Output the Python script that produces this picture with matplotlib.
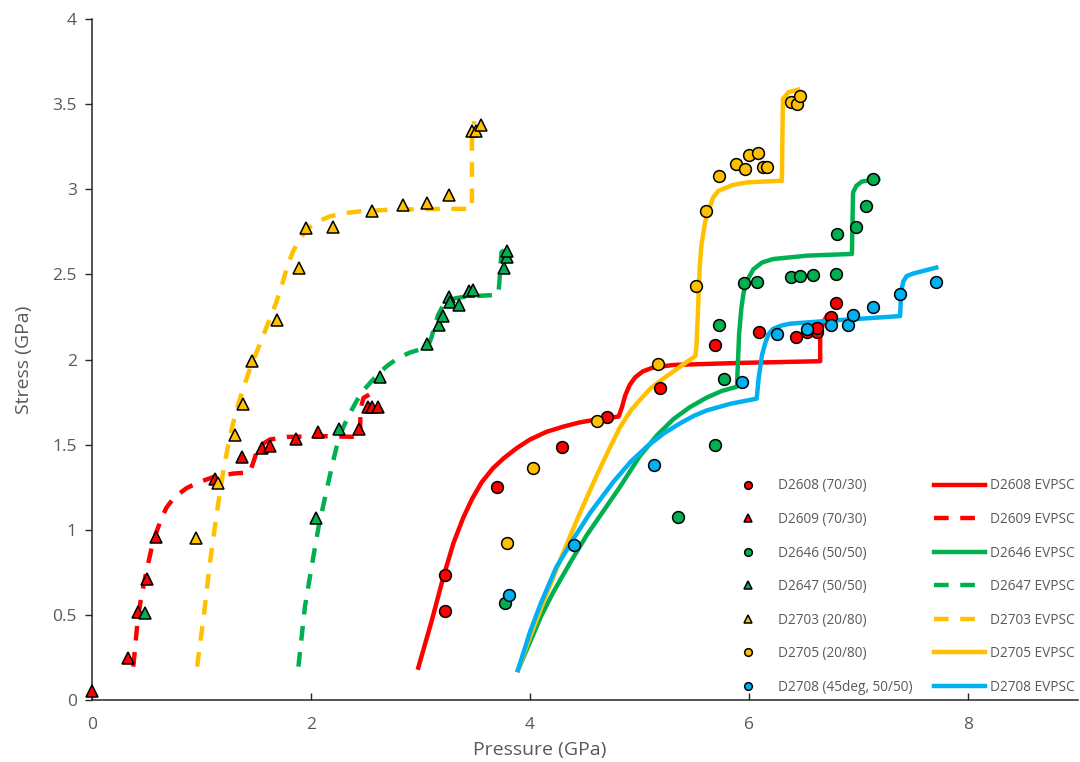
"""
Stress versus pressure for the D26xx / D27xx runs, with EVPSC model curves.
"""

import matplotlib
matplotlib.use("Agg")
import matplotlib.pyplot as plt

plt.rcParams["font.family"] = ["Open Sans", "DejaVu Sans"]

RED = "#FF0000"
GREEN = "#00B050"
YELLOW = "#FFC000"
BLUE = "#00B0F0"
GREY = "#595959"

# measured points (pressure GPa, stress GPa)
d2608_p = [3.22, 3.22, 3.70, 4.29, 4.70, 5.19, 5.69, 6.09, 6.43, 6.53, 6.62, 6.62, 6.75, 6.79]
d2608_s = [0.52, 0.735, 1.25, 1.485, 1.66, 1.83, 2.085, 2.16, 2.13, 2.16, 2.16, 2.185, 2.25, 2.33]

d2609_p = [0.0, 0.33, 0.42, 0.50, 0.585, 1.12, 1.37, 1.55, 1.63, 1.86, 2.06, 2.44, 2.52, 2.56, 2.61]
d2609_s = [0.05, 0.245, 0.515, 0.71, 0.957, 1.30, 1.43, 1.48, 1.49, 1.535, 1.575, 1.59, 1.72, 1.72, 1.72]

d2646_p = [3.77, 5.35, 5.69, 5.77, 5.73, 5.95, 6.07, 6.38, 6.47, 6.58, 6.79, 6.80, 6.98, 7.07, 7.13]
d2646_s = [0.57, 1.075, 1.50, 1.885, 2.20, 2.45, 2.455, 2.485, 2.49, 2.495, 2.505, 2.735, 2.78, 2.90, 3.06]

d2647_p = [0.484, 2.05, 2.26, 2.63, 3.06, 3.17, 3.21, 3.26, 3.27, 3.35, 3.44, 3.48, 3.76, 3.79, 3.79]
d2647_s = [0.51, 1.07, 1.59, 1.90, 2.09, 2.205, 2.255, 2.37, 2.34, 2.32, 2.405, 2.41, 2.54, 2.60, 2.64]

d2703_p = [0.947, 1.15, 1.31, 1.38, 1.46, 1.69, 1.89, 1.95, 2.20, 2.56, 2.84, 3.06, 3.26, 3.47, 3.51, 3.55]
d2703_s = [0.95, 1.275, 1.555, 1.74, 1.99, 2.23, 2.54, 2.77, 2.78, 2.87, 2.905, 2.92, 2.965, 3.34, 3.34, 3.38]

d2705_p = [3.79, 4.03, 4.61, 5.17, 5.52, 5.61, 5.73, 5.88, 5.96, 6.00, 6.08, 6.13, 6.16, 6.38, 6.44, 6.47]
d2705_s = [0.92, 1.36, 1.64, 1.975, 2.43, 2.875, 3.075, 3.15, 3.12, 3.20, 3.21, 3.13, 3.13, 3.51, 3.50, 3.55]

d2708_p = [3.81, 4.40, 5.13, 5.94, 6.26, 6.53, 6.75, 6.90, 6.95, 7.13, 7.38, 7.71]
d2708_s = [0.615, 0.91, 1.38, 1.87, 2.15, 2.18, 2.205, 2.205, 2.26, 2.31, 2.385, 2.455]

# EVPSC model curves
m2608_p = [2.98, 3.10, 3.21, 3.30, 3.39, 3.47, 3.56, 3.66, 3.76, 3.88, 4.00, 4.15, 4.30, 4.45, 4.61,
           4.81, 4.84, 4.87, 4.91, 4.96, 5.03, 5.12, 5.31, 5.92, 6.65, 6.65, 6.68, 6.71]
m2608_s = [0.19, 0.46, 0.725, 0.92, 1.07, 1.18, 1.28, 1.36, 1.42, 1.48, 1.53, 1.575, 1.605, 1.63, 1.648,
           1.665, 1.72, 1.79, 1.85, 1.895, 1.93, 1.952, 1.968, 1.98, 1.99, 2.15, 2.22, 2.255]

m2609_p = [0.377, 0.40, 0.42, 0.46, 0.50, 0.54, 0.585, 0.63, 0.68, 0.75, 0.865, 0.98, 1.11, 1.29, 1.44,
           1.47, 1.49, 1.51, 1.55, 1.625, 1.78, 2.10, 2.45, 2.45, 2.48, 2.55]
m2609_s = [0.196, 0.35, 0.49, 0.64, 0.765, 0.88, 0.98, 1.06, 1.13, 1.19, 1.245, 1.28, 1.31, 1.33, 1.337,
           1.39, 1.43, 1.47, 1.50, 1.53, 1.545, 1.55, 1.545, 1.705, 1.775, 1.80]

m2646_p = [3.89, 4.00, 4.10, 4.21, 4.37, 4.52, 4.67, 4.82, 5.00, 5.16, 5.31, 5.46, 5.61, 5.75, 5.89,
           5.90, 5.91, 5.93, 5.95, 5.98, 6.04, 6.12, 6.22, 6.53, 6.94, 6.945, 6.95, 6.98, 7.03, 7.18]
m2646_s = [0.176, 0.34, 0.49, 0.63, 0.81, 0.97, 1.11, 1.25, 1.43, 1.555, 1.65, 1.72, 1.775, 1.815, 1.84,
           2.0, 2.155, 2.30, 2.39, 2.46, 2.53, 2.57, 2.59, 2.61, 2.62, 2.80, 2.98, 3.02, 3.045, 3.06]

m2647_p = [1.885, 1.945, 2.005, 2.07, 2.13, 2.19, 2.25, 2.30, 2.36, 2.42, 2.48, 2.55, 2.62, 2.70, 2.80,
           2.90, 3.00, 3.07, 3.10, 3.13, 3.16, 3.20, 3.25, 3.32, 3.42, 3.71, 3.72, 3.73, 3.74, 3.79]
m2647_s = [0.196, 0.55, 0.78, 1.02, 1.195, 1.37, 1.53, 1.61, 1.69, 1.76, 1.82, 1.87, 1.92, 1.965, 2.01,
           2.04, 2.06, 2.08, 2.13, 2.20, 2.26, 2.31, 2.34, 2.36, 2.37, 2.38, 2.45, 2.55, 2.63, 2.655]

m2703_p = [0.96, 1.02, 1.08, 1.14, 1.20, 1.26, 1.31, 1.37, 1.45, 1.52, 1.60, 1.68, 1.74, 1.79, 1.84,
           1.90, 1.97, 2.06, 2.17, 2.30, 2.45, 2.72, 3.24, 3.47, 3.47, 3.49]
m2703_s = [0.196, 0.49, 0.82, 1.10, 1.35, 1.55, 1.68, 1.81, 1.96, 2.07, 2.20, 2.33, 2.45, 2.56, 2.64,
           2.71, 2.77, 2.81, 2.84, 2.86, 2.87, 2.88, 2.885, 2.885, 3.30, 3.40]

m2705_p = [3.89, 4.00, 4.15, 4.30, 4.45, 4.61, 4.72, 4.82, 4.92, 5.00, 5.10, 5.20, 5.31, 5.42, 5.51,
           5.52, 5.535, 5.55, 5.565, 5.60, 5.67, 5.72, 5.85, 5.98, 6.13, 6.30, 6.31, 6.36, 6.45]
m2705_s = [0.176, 0.37, 0.62, 0.86, 1.09, 1.32, 1.47, 1.60, 1.70, 1.76, 1.83, 1.88, 1.93, 1.98, 2.02,
           2.08, 2.30, 2.55, 2.67, 2.81, 2.95, 2.99, 3.025, 3.04, 3.045, 3.05, 3.53, 3.57, 3.585]

m2708_p = [3.89, 4.00, 4.10, 4.24, 4.40, 4.55, 4.76, 4.92, 5.07, 5.22, 5.37, 5.50, 5.61, 5.83, 6.07,
           6.09, 6.12, 6.15, 6.18, 6.22, 6.30, 6.37, 6.68, 7.38, 7.39, 7.41, 7.44, 7.50, 7.71]
m2708_s = [0.176, 0.40, 0.57, 0.78, 0.95, 1.10, 1.28, 1.40, 1.49, 1.565, 1.625, 1.67, 1.70, 1.74, 1.77,
           1.90, 2.03, 2.10, 2.15, 2.18, 2.20, 2.21, 2.225, 2.255, 2.40, 2.46, 2.49, 2.505, 2.54]

points = [
    (d2608_p, d2608_s, "o", RED, "D2608 (70/30)"),
    (d2609_p, d2609_s, "^", RED, "D2609 (70/30)"),
    (d2646_p, d2646_s, "o", GREEN, "D2646 (50/50)"),
    (d2647_p, d2647_s, "^", GREEN, "D2647 (50/50)"),
    (d2703_p, d2703_s, "^", YELLOW, "D2703 (20/80)"),
    (d2705_p, d2705_s, "o", YELLOW, "D2705 (20/80)"),
    (d2708_p, d2708_s, "o", BLUE, "D2708 (45deg, 50/50)"),
]
models = [
    (m2608_p, m2608_s, "-", RED, "D2608 EVPSC"),
    (m2609_p, m2609_s, "--", RED, "D2609 EVPSC"),
    (m2646_p, m2646_s, "-", GREEN, "D2646 EVPSC"),
    (m2647_p, m2647_s, "--", GREEN, "D2647 EVPSC"),
    (m2703_p, m2703_s, "--", YELLOW, "D2703 EVPSC"),
    (m2705_p, m2705_s, "-", YELLOW, "D2705 EVPSC"),
    (m2708_p, m2708_s, "-", BLUE, "D2708 EVPSC"),
]

fig = plt.figure(figsize=(10.8, 7.62), dpi=100)
ax = fig.add_axes([92 / 1080, 1 - 700 / 762, (1077.5 - 92) / 1080, (700 - 19) / 762])

handles = []
for p, s, marker, color, label in points:
    h, = ax.plot(p, s, linestyle="none", marker=marker, markersize=8.5,
                 markerfacecolor=color, markeredgecolor="black", markeredgewidth=1.1,
                 label=label, zorder=3, clip_on=False)
    handles.append(h)
for p, s, style, color, label in models:
    kw = dict(color=color, linewidth=3.2, label=label, zorder=2,
              solid_joinstyle="round", dash_joinstyle="round")
    if style == "--":
        kw["dashes"] = (3.3, 2.6)
    h, = ax.plot(p, s, **kw)
    handles.append(h)

ax.set_xlim(0, 9)
ax.set_ylim(0, 4)
ax.set_xticks([0, 2, 4, 6, 8])
ax.set_yticks([0, 0.5, 1, 1.5, 2, 2.5, 3, 3.5, 4])
ax.set_yticklabels(["0", "0.5", "1", "1.5", "2", "2.5", "3", "3.5", "4"])
ax.tick_params(axis="x", direction="in", length=5, width=1, colors="#262626",
               labelcolor=GREY, labelsize=12.5, pad=12)
ax.tick_params(axis="y", direction="out", length=5, width=1, colors="#262626",
               labelcolor=GREY, labelsize=12.5, pad=6)
for side in ("top", "right"):
    ax.spines[side].set_visible(False)
for side in ("left", "bottom"):
    ax.spines[side].set_color("#262626")
    ax.spines[side].set_linewidth(1.1)

ax.set_xlabel("Pressure (GPa)", color=GREY, fontsize=14)
ax.set_ylabel("Stress (GPa)", color=GREY, fontsize=14)
ax.xaxis.set_label_coords((540 - 92) / 985.5, -0.06)
ax.yaxis.set_label_coords(-0.06, 0.5)

leg = ax.legend(handles=handles, ncol=2, loc="lower right", bbox_to_anchor=(1.004, -0.002),
                frameon=False, fontsize=9.8, labelcolor=GREY, markerscale=0.65,
                handlelength=3.8, handletextpad=0.35, columnspacing=1.5,
                labelspacing=1.36, borderpad=0.0)

fig.savefig("out.png", dpi=100)
